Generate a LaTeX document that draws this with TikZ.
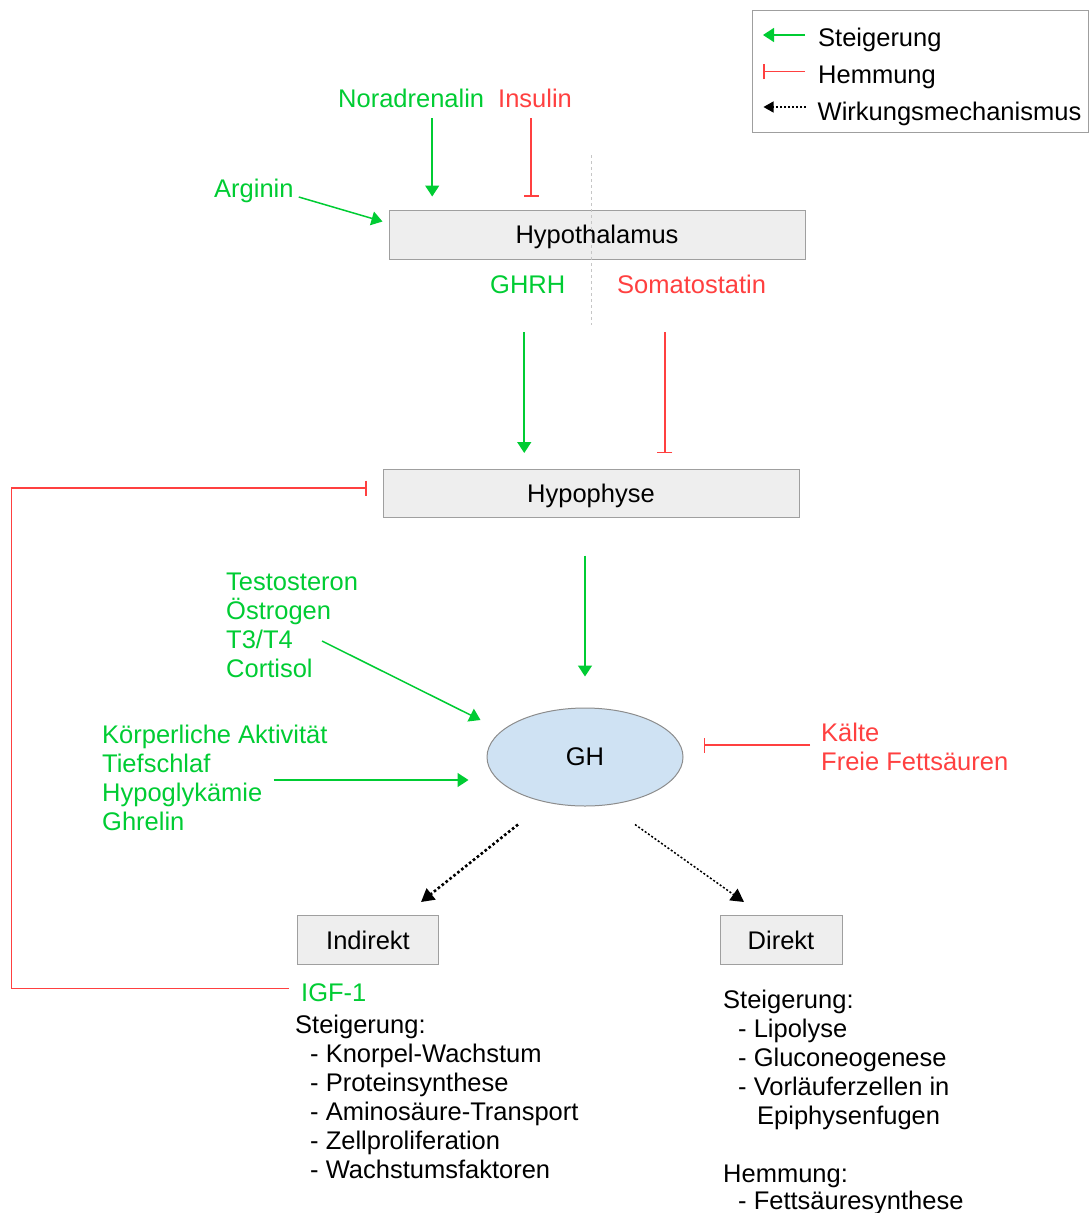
\documentclass[tikz,border=0pt]{standalone}
\usepackage{fontspec}
\setmainfont{Liberation Sans}
\usepackage{tikz}
\usetikzlibrary{arrows.meta,positioning,calc,shapes.geometric}
\definecolor{gruen}{RGB}{0,204,51}
\definecolor{rot}{RGB}{255,64,64}
\definecolor{kasten}{RGB}{238,238,238}
\definecolor{ghblau}{RGB}{207,226,243}

\begin{document}
\begin{tikzpicture}[x=1pt, y=-1pt, font=\fontsize{25.5pt}{29pt}\selectfont,
  organ/.style={draw=gray!75, fill=kasten, line width=1pt, minimum width=416pt, minimum height=49pt, inner sep=0pt, text height=20pt, text depth=2pt},
  wirkung/.style={organ, minimum width=141pt},
  lbl/.style={anchor=base west, inner sep=0pt},
  plus/.style={gruen, line width=1.5pt, -{Triangle[length=11pt,width=14pt]}},
  minus/.style={rot, line width=1.5pt, -{Bar[width=15pt]}},
  mech/.style={black, line width=1.5pt, dash pattern=on 2pt off 2pt, -{Triangle[length=13pt,width=14pt]}}]
  \useasboundingbox (0,0) rectangle (1089,1213);

  % Legende
  \node[draw=gray!75, line width=1pt, minimum width=336pt, minimum height=122pt, inner sep=0pt] (legende) at (920,71.5) {};
  \node[lbl] (lsteig) at (818,46) {Steigerung};
  \node[lbl] (lhemm) at (818,83.5) {Hemmung};
  \node[lbl] (lwirk) at (817.5,120) {Wirkungsmechanismus};
  \draw[plus] ($(lsteig.base west)+(-13,-11)$) -- ($(lsteig.base west)+(-55,-11)$);
  \draw[minus] ($(lhemm.base west)+(-13,-12)$) -- ($(lhemm.base west)+(-55,-12)$);
  \draw[mech, line width=1.2pt, -{Triangle[length=10pt,width=11pt]}] ($(lwirk.base west)+(-12,-13)$) -- ($(lwirk.base west)+(-54,-13)$);

  % Hypothalamus
  \node[organ] (hth) at (597,234.5) {Hypothalamus};
  \node[lbl, gruen] (noradr) at (338,107) {Noradrenalin};
  \node[lbl, rot] (insulin) at (498,107) {Insulin};
  \node[lbl, gruen] (arginin) at (214,197) {Arginin};
  \draw[plus] ($(noradr.south)+(21,11)$) -- ($(noradr.south |- hth.north)+(21,-13)$);
  \draw[minus] ($(insulin.south)+(-4,11)$) -- ($(insulin.south |- hth.north)+(-4,-13)$);
  \draw[plus] ($(arginin.base east)+(5,0)$) -- ($(hth.west)+(-6,-13)$);
  \draw[gray!45, line width=0.8pt, dash pattern=on 3pt off 3pt] (591.5,155) -- (591.5,325);
  \node[lbl, gruen] (ghrh) at (490,293) {GHRH};
  \node[lbl, rot] (somato) at (617,293) {Somatostatin};

  % Hypophyse
  \node[organ, minimum height=48pt] (hyp) at (591,493) {Hypophyse};
  \draw[plus] ($(ghrh.south)+(-3.5,39)$) -- ($(ghrh.south |- hyp.north)+(-3.5,-15.5)$);
  \draw[minus] ($(somato.south)+(-26.7,39)$) -- ($(somato.south |- hyp.north)+(-26.7,-15.5)$);

  % GH
  \node[ellipse, draw=gray!90, fill=ghblau, line width=1pt, minimum width=196pt, minimum height=98pt, inner sep=0pt] (gh) at (585,757) {GH};
  \draw[plus] ($(hyp.south)+(-6,38)$) -- ($(gh.north)+(0,-31)$);
  \foreach \t [count=\i] in {Testosteron, Östrogen, T3/T4, Cortisol}
    \node[lbl, gruen] (hor\i) at (226,561+29*\i) {\t};
  \draw[plus] ($(hor3.base east)+(29,-7)$) -- ($(gh.west)+(-6,-37)$);
  \foreach \t [count=\i] in {Körperliche Aktivität, Tiefschlaf, Hypoglykämie, Ghrelin}
    \node[lbl, gruen] (akt\i) at (102,714+29*\i) {\t};
  \draw[plus] ($(akt3.base east)+(11,-21)$) -- ($(gh.west)+(-18,23)$);
  \node[lbl, rot] (kaelte) at (821,741) {Kälte};
  \node[lbl, rot] (ffs) at (821,770) {Freie Fettsäuren};
  \draw[minus] ($(kaelte.base west)+(-11,4)$) -- ($(gh.east)+(20,-12)$);

  % Wirkungen
  \node[wirkung] (indirekt) at (368,940) {Indirekt};
  \node[wirkung, minimum width=122pt] (direkt) at (781,940) {Direkt};
  \draw[mech, line width=2.6pt, dash pattern=on 2.6pt off 2.4pt] ($(gh.south)+(-67,18)$) -- ($(indirekt.north)+(53,-13)$);
  \draw[mech] ($(gh.south)+(50,18)$) -- ($(direkt.north)+(-37,-13)$);

  % IGF-1 Rueckkopplung
  \node[lbl, gruen] (igf) at (301,1001) {IGF-1};
  \coordinate (rueck) at (11.5,700);
  \draw[minus, line width=1.3pt] ($(igf.west)+(-12,-4)$) -| (rueck) |- ($(hyp.west)+(-16,-5)$);

  \node[lbl] (indsteig) at (295,1033) {Steigerung:};
  \foreach \t [count=\i] in {Knorpel-Wachstum, Proteinsynthese, Aminosäure-Transport, Zellproliferation, Wachstumsfaktoren}
    \node[lbl] (ind\i) at (310,1033+29*\i) {- \t};

  \foreach \x/\y/\t [count=\i] in {723/1008/Steigerung:, 738/1037/- Lipolyse, 738/1066/- Gluconeogenese,
      738/1095/- Vorläuferzellen in, 757/1124/Epiphysenfugen, 723/1182/Hemmung:, 738/1209/- Fettsäuresynthese}
    \node[lbl] (dir\i) at (\x,\y) {\t};
\end{tikzpicture}
\end{document}
